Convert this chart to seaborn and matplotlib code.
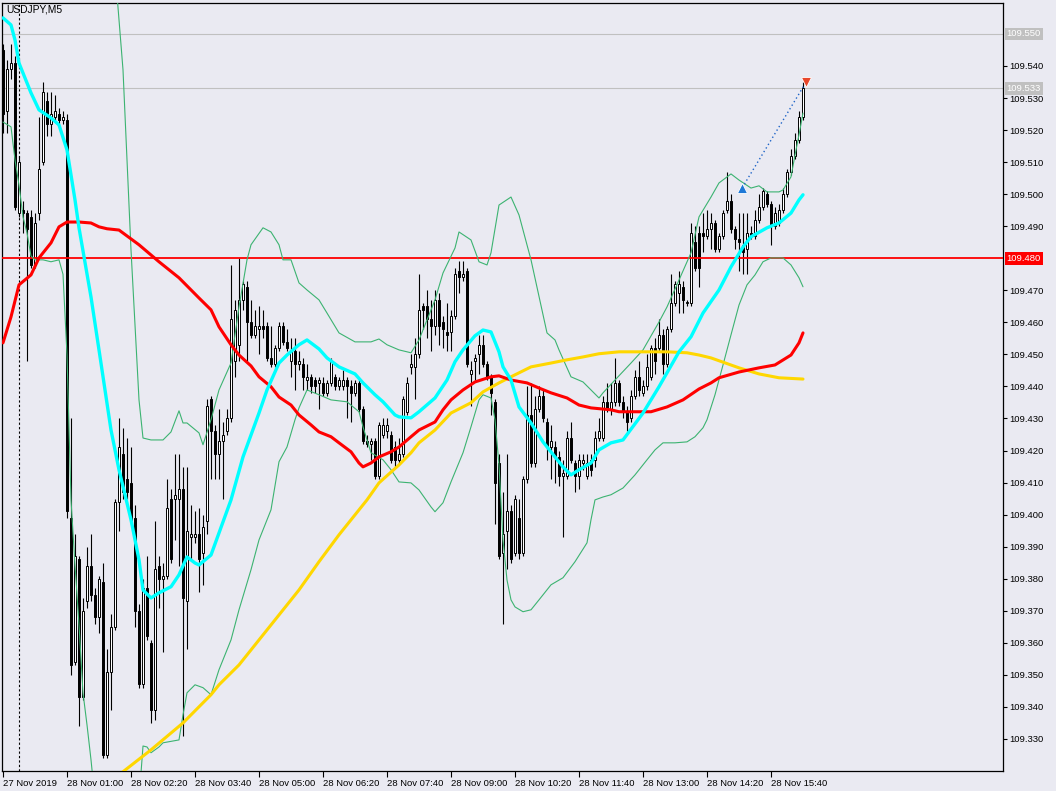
import numpy as np
import pandas as pd
import matplotlib.pyplot as plt
import seaborn as sns

# USDJPY M5, bar 0 = 27 Nov 2019 23:40, bar 200 = 28 Nov 16:20
opens = [109.545, 109.526, 109.539, 109.541, 109.494, 109.495, 109.494, 109.493, 109.478, 109.494,
         109.510, 109.529, 109.522, 109.524, 109.525, 109.523, 109.523, 109.399, 109.354, 109.386,
         109.343, 109.373, 109.384, 109.375, 109.368, 109.379, 109.325, 109.351, 109.365, 109.404,
         109.419, 109.411, 109.410, 109.399, 109.370, 109.347, 109.377, 109.360, 109.339, 109.384,
         109.380, 109.381, 109.405, 109.405, 109.405, 109.408, 109.373, 109.393, 109.393, 109.394,
         109.388, 109.398, 109.436, 109.426, 109.419, 109.423, 109.426, 109.430, 109.448, 109.453,
         109.467, 109.471, 109.460, 109.456, 109.458, 109.459, 109.459, 109.449, 109.447, 109.452,
         109.459, 109.454, 109.448, 109.451, 109.447, 109.447, 109.442, 109.443, 109.442, 109.441,
         109.441, 109.438, 109.441, 109.443, 109.440, 109.440, 109.442, 109.440, 109.438, 109.441,
         109.433, 109.423, 109.422, 109.423, 109.412, 109.425, 109.426, 109.425, 109.421, 109.417,
         109.419, 109.432, 109.446, 109.446, 109.450, 109.465, 109.465, 109.461, 109.459, 109.467,
         109.460, 109.457, 109.457, 109.462, 109.476, 109.474, 109.476, 109.444, 109.448, 109.450,
         109.453, 109.447, 109.443, 109.435, 109.416, 109.388, 109.395, 109.401, 109.388, 109.399,
         109.388, 109.411, 109.431, 109.416, 109.433, 109.437, 109.429, 109.421, 109.421, 109.418,
         109.412, 109.412, 109.424, 109.416, 109.412, 109.416, 109.412, 109.417, 109.417, 109.424,
         109.424, 109.435, 109.433, 109.435, 109.441, 109.435, 109.432, 109.430, 109.437, 109.443,
         109.438, 109.440, 109.443, 109.452, 109.452, 109.456, 109.447, 109.458, 109.466, 109.469,
         109.471, 109.466, 109.466, 109.485, 109.488, 109.488, 109.487, 109.489, 109.491, 109.483,
         109.487, 109.495, 109.498, 109.489, 109.486, 109.484, 109.483, 109.488, 109.487, 109.492,
         109.496, 109.500, 109.497, 109.490, 109.491, 109.495, 109.500, 109.507, 109.512, 109.517,
         109.524]
highs = [109.547, 109.542, 109.547, 109.543, 109.512, 109.498, 109.495, 109.495, 109.494, 109.524,
         109.535, 109.532, 109.532, 109.531, 109.527, 109.526, 109.525, 109.430, 109.394, 109.387,
         109.374, 109.390, 109.394, 109.377, 109.381, 109.385, 109.358, 109.369, 109.405, 109.430,
         109.427, 109.424, 109.421, 109.403, 109.372, 109.380, 109.387, 109.361, 109.398, 109.387,
         109.385, 109.411, 109.408, 109.419, 109.419, 109.415, 109.415, 109.403, 109.401, 109.402,
         109.400, 109.436, 109.437, 109.428, 109.433, 109.429, 109.433, 109.478, 109.467, 109.480,
         109.473, 109.473, 109.467, 109.464, 109.465, 109.464, 109.460, 109.459, 109.453, 109.460,
         109.460, 109.458, 109.455, 109.455, 109.451, 109.449, 109.447, 109.444, 109.443, 109.443,
         109.443, 109.442, 109.449, 109.444, 109.443, 109.445, 109.443, 109.442, 109.442, 109.442,
         109.434, 109.425, 109.424, 109.424, 109.429, 109.430, 109.430, 109.426, 109.423, 109.424,
         109.437, 109.443, 109.450, 109.455, 109.475, 109.466, 109.470, 109.467, 109.470, 109.469,
         109.462, 109.466, 109.464, 109.477, 109.479, 109.479, 109.477, 109.448, 109.450, 109.456,
         109.456, 109.448, 109.444, 109.436, 109.419, 109.407, 109.419, 109.403, 109.406, 109.405,
         109.412, 109.440, 109.441, 109.437, 109.440, 109.439, 109.430, 109.428, 109.423, 109.420,
         109.417, 109.426, 109.429, 109.417, 109.419, 109.419, 109.419, 109.419, 109.426, 109.430,
         109.437, 109.441, 109.441, 109.449, 109.442, 109.437, 109.434, 109.439, 109.445, 109.448,
         109.442, 109.450, 109.453, 109.455, 109.461, 109.458, 109.459, 109.475, 109.473, 109.476,
         109.473, 109.467, 109.491, 109.490, 109.490, 109.494, 109.495, 109.494, 109.492, 109.488,
         109.495, 109.507, 109.500, 109.490, 109.494, 109.494, 109.494, 109.490, 109.495, 109.500,
         109.502, 109.501, 109.498, 109.496, 109.497, 109.502, 109.508, 109.514, 109.519, 109.526,
         109.535]
lows = [109.519, 109.519, 109.536, 109.495, 109.493, 109.488, 109.448, 109.477, 109.477, 109.492,
        109.509, 109.518, 109.518, 109.523, 109.522, 109.522, 109.399, 109.350, 109.353, 109.334,
        109.342, 109.371, 109.373, 109.366, 109.363, 109.324, 109.324, 109.339, 109.364, 109.395,
        109.405, 109.405, 109.397, 109.365, 109.346, 109.346, 109.361, 109.335, 109.336, 109.371,
        109.357, 109.380, 109.385, 109.392, 109.384, 109.331, 109.358, 109.386, 109.391, 109.376,
        109.378, 109.394, 109.411, 109.411, 109.411, 109.405, 109.425, 109.429, 109.443, 109.448,
        109.464, 109.448, 109.455, 109.455, 109.450, 109.455, 109.448, 109.446, 109.446, 109.451,
        109.453, 109.451, 109.443, 109.439, 109.445, 109.439, 109.439, 109.438, 109.438, 109.433,
        109.437, 109.437, 109.440, 109.439, 109.439, 109.439, 109.430, 109.429, 109.437, 109.432,
        109.422, 109.421, 109.417, 109.411, 109.411, 109.424, 109.424, 109.416, 109.415, 109.416,
        109.418, 109.431, 109.444, 109.436, 109.449, 109.458, 109.455, 109.451, 109.456, 109.453,
        109.452, 109.451, 109.451, 109.461, 109.469, 109.473, 109.446, 109.434, 109.442, 109.444,
        109.446, 109.442, 109.431, 109.397, 109.386, 109.366, 109.383, 109.385, 109.387, 109.386,
        109.387, 109.410, 109.415, 109.415, 109.432, 109.429, 109.417, 109.411, 109.410, 109.409,
        109.393, 109.411, 109.416, 109.407, 109.408, 109.414, 109.411, 109.412, 109.415, 109.423,
        109.423, 109.432, 109.431, 109.434, 109.434, 109.430, 109.426, 109.429, 109.436, 109.437,
        109.437, 109.439, 109.442, 109.444, 109.451, 109.444, 109.446, 109.457, 109.465, 109.463,
        109.463, 109.465, 109.465, 109.476, 109.471, 109.482, 109.486, 109.483, 109.482, 109.482,
        109.486, 109.494, 109.488, 109.483, 109.476, 109.475, 109.475, 109.486, 109.486, 109.491,
        109.495, 109.496, 109.484, 109.489, 109.490, 109.494, 109.499, 109.506, 109.511, 109.516,
        109.523]
closes = [109.525, 109.539, 109.541, 109.496, 109.510, 109.494, 109.489, 109.478, 109.491, 109.508,
          109.532, 109.522, 109.525, 109.526, 109.523, 109.524, 109.401, 109.353, 109.387, 109.343,
          109.370, 109.384, 109.375, 109.368, 109.380, 109.325, 109.351, 109.365, 109.404, 109.421,
          109.407, 109.407, 109.398, 109.370, 109.347, 109.377, 109.362, 109.339, 109.383, 109.380,
          109.381, 109.402, 109.386, 109.406, 109.408, 109.374, 109.395, 109.394, 109.394, 109.386,
          109.396, 109.434, 109.426, 109.419, 109.423, 109.425, 109.430, 109.461, 109.464, 109.467,
          109.472, 109.460, 109.456, 109.459, 109.459, 109.458, 109.449, 109.447, 109.452, 109.459,
          109.454, 109.452, 109.451, 109.447, 109.448, 109.443, 109.443, 109.440, 109.440, 109.442,
          109.438, 109.441, 109.448, 109.440, 109.442, 109.442, 109.440, 109.438, 109.441, 109.433,
          109.423, 109.422, 109.423, 109.412, 109.428, 109.428, 109.428, 109.417, 109.417, 109.419,
          109.436, 109.441, 109.447, 109.450, 109.464, 109.464, 109.461, 109.459, 109.467, 109.459,
          109.458, 109.456, 109.462, 109.475, 109.474, 109.475, 109.447, 109.445, 109.449, 109.453,
          109.447, 109.443, 109.438, 109.410, 109.387, 109.394, 109.401, 109.386, 109.405, 109.388,
          109.411, 109.431, 109.416, 109.433, 109.437, 109.430, 109.421, 109.423, 109.418, 109.412,
          109.413, 109.424, 109.417, 109.412, 109.417, 109.417, 109.416, 109.414, 109.424, 109.426,
          109.435, 109.433, 109.435, 109.441, 109.435, 109.432, 109.429, 109.437, 109.443, 109.439,
          109.440, 109.446, 109.452, 109.448, 109.456, 109.447, 109.458, 109.466, 109.472, 109.472,
          109.467, 109.466, 109.488, 109.477, 109.477, 109.487, 109.489, 109.491, 109.483, 109.487,
          109.494, 109.498, 109.489, 109.486, 109.485, 109.482, 109.488, 109.487, 109.492, 109.496,
          109.501, 109.497, 109.490, 109.494, 109.495, 109.500, 109.507, 109.512, 109.517, 109.524,
          109.533]

# fast MA (cyan) at these bars
fast_bars = [0, 2, 3, 4, 7, 9, 12, 14, 16, 18, 19, 22, 24, 27, 29, 32, 34, 35, 37, 39,
             42, 44, 46, 48, 49, 52, 57, 60, 64, 66, 69, 71, 74, 76, 79, 81, 84, 88, 90, 93,
             95, 98, 99, 102, 104, 108, 111, 113, 115, 118, 120, 122, 124, 125, 127, 129, 132, 135, 138, 140,
             142, 144, 147, 149, 152, 155, 160, 164, 169, 172, 175, 179, 182, 185, 187, 191, 194, 197, 199, 200]
fast_ma = [109.5550, 109.5528, 109.5481, 109.5409, 109.5316, 109.5263, 109.5238, 109.5216, 109.5138, 109.4982,
           109.4895, 109.4679, 109.4514, 109.4264, 109.4140, 109.3984, 109.3859, 109.3765, 109.3740, 109.3756,
           109.3775, 109.3812, 109.3868, 109.3849, 109.3843, 109.3874, 109.4046, 109.4180, 109.4317, 109.4389,
           109.4473, 109.4498, 109.4530, 109.4545, 109.4517, 109.4489, 109.4461, 109.4439, 109.4411, 109.4374,
           109.4352, 109.4311, 109.4305, 109.4302, 109.4321, 109.4364, 109.4420, 109.4477, 109.4514, 109.4558,
           109.4576, 109.4570, 109.4508, 109.4461, 109.4420, 109.4336, 109.4286, 109.4227, 109.4180, 109.4149,
           109.4124, 109.4140, 109.4161, 109.4202, 109.4224, 109.4233, 109.4317, 109.4399, 109.4508, 109.4555,
           109.4629, 109.4701, 109.4773, 109.4835, 109.4867, 109.4895, 109.4910, 109.4941, 109.4982, 109.4998]

# slow MA (red)
slow_bars = [0, 2, 4, 7, 9, 12, 14, 16, 19, 22, 24, 26, 29, 34, 39, 44, 49, 52, 54, 57,
             59, 62, 64, 67, 69, 72, 74, 77, 79, 82, 84, 87, 89, 90, 92, 94, 97, 99, 102, 104,
             108, 110, 112, 115, 118, 122, 124, 127, 131, 134, 137, 141, 144, 147, 152, 154, 162, 166, 170, 174,
             177, 179, 184, 189, 193, 197, 199, 200]
slow_ma = [109.4536, 109.4617, 109.4717, 109.4748, 109.4801, 109.4848, 109.4898, 109.4913, 109.4913, 109.4910,
           109.4898, 109.4892, 109.4888, 109.4842, 109.4789, 109.4739, 109.4676, 109.4639, 109.4586, 109.4530,
           109.4498, 109.4464, 109.4430, 109.4399, 109.4367, 109.4342, 109.4311, 109.4280, 109.4258, 109.4243,
           109.4224, 109.4196, 109.4161, 109.4149, 109.4161, 109.4180, 109.4196, 109.4211, 109.4243, 109.4264,
           109.4289, 109.4327, 109.4358, 109.4389, 109.4414, 109.4430, 109.4433, 109.4420, 109.4411, 109.4395,
           109.4380, 109.4364, 109.4342, 109.4333, 109.4327, 109.4321, 109.4321, 109.4336, 109.4358, 109.4392,
           109.4411, 109.4427, 109.4445, 109.4458, 109.4467, 109.4498, 109.4536, 109.4567]

# long MA (gold)
long_bars = [29, 37, 45, 52, 54, 59, 64, 69, 74, 79, 84, 91, 94, 99, 102, 104, 108, 112, 117, 120,
             124, 127, 132, 137, 141, 145, 149, 154, 158, 166, 171, 174, 177, 184, 189, 194, 200]
long_ma = [109.3188, 109.3266, 109.3350, 109.3438, 109.3469, 109.3531, 109.3609, 109.3687, 109.3765, 109.3853,
           109.3937, 109.4046, 109.4099, 109.4155, 109.4193, 109.4224, 109.4264, 109.4317, 109.4349, 109.4383,
           109.4411, 109.4430, 109.4461, 109.4473, 109.4483, 109.4492, 109.4502, 109.4508, 109.4508, 109.4508,
           109.4505, 109.4498, 109.4489, 109.4458, 109.4439, 109.4427, 109.4423]

# Bollinger bands (green)
upper_bars = [28, 30, 32, 34, 35, 37, 40, 42, 44, 45, 46, 49, 50, 52, 54, 57, 59, 61, 62, 65,
              67, 69, 70, 72, 74, 76, 79, 81, 84, 88, 92, 94, 96, 99, 102, 104, 108, 110, 113, 114,
              117, 119, 121, 122, 124, 127, 129, 132, 136, 138, 139, 142, 145, 147, 149, 150, 153, 157, 160, 164,
              166, 169, 172, 174, 177, 179, 182, 184, 187, 189, 191, 194, 195, 197, 198, 199, 200]
upper_band = [109.5700, 109.5388, 109.4826, 109.4358, 109.4239, 109.4233, 109.4233, 109.4258, 109.4324, 109.4286,
              109.4286, 109.4255, 109.4218, 109.4296, 109.4389, 109.4473, 109.4648, 109.4795, 109.4842, 109.4895,
              109.4882, 109.4842, 109.4795, 109.4795, 109.4723, 109.4701, 109.4670, 109.4629, 109.4567, 109.4539,
              109.4539, 109.4548, 109.4530, 109.4514, 109.4505, 109.4545, 109.4670, 109.4754, 109.4832, 109.4882,
              109.4857, 109.4789, 109.4779, 109.4817, 109.4966, 109.4991, 109.4935, 109.4795, 109.4567, 109.4545,
              109.4514, 109.4430, 109.4414, 109.4389, 109.4364, 109.4380, 109.4420, 109.4473, 109.4514, 109.4601,
              109.4648, 109.4732, 109.4817, 109.4929, 109.4991, 109.5035, 109.5063, 109.5044, 109.5019, 109.5026,
              109.5007, 109.5007, 109.5013, 109.5054, 109.5122, 109.5185, 109.5253]
lower_bars_a = [0, 2, 3, 4, 5, 6, 7, 8, 10, 12, 14, 15, 16, 17, 18, 19, 20, 21, 22, 23]
lower_band_a = [109.5225, 109.5210, 109.5107, 109.5029, 109.4929, 109.4879, 109.4807, 109.4795, 109.4795, 109.4789,
                109.4795, 109.4750, 109.4498, 109.4046, 109.3843, 109.3656, 109.3444, 109.3344, 109.3235, 109.3110]
lower_bars_b = [34, 35, 36, 37, 38, 39, 40, 44, 45, 46, 48, 50, 52, 54, 57, 59, 62, 64, 67, 69,
                71, 73, 74, 76, 79, 82, 86, 89, 90, 91, 92, 95, 97, 99, 102, 104, 107, 108, 110, 112,
                115, 117, 119, 120, 122, 123, 124, 125, 126, 127, 128, 130, 132, 134, 137, 140, 143, 146, 147, 148,
                150, 152, 155, 158, 161, 163, 165, 168, 171, 173, 175, 176, 178, 180, 182, 184, 186, 188, 190, 192,
                195, 197, 199, 200]
lower_band_b = [109.3110, 109.3278, 109.3275, 109.3257, 109.3266, 109.3275, 109.3288, 109.3297, 109.3375, 109.3444,
                109.3469, 109.3460, 109.3438, 109.3516, 109.3609, 109.3703, 109.3828, 109.3921, 109.4015, 109.4165,
                109.4211, 109.4296, 109.4333, 109.4389, 109.4374, 109.4358, 109.4352, 109.4321, 109.4274, 109.4233,
                109.4193, 109.4171, 109.4140, 109.4102, 109.4099, 109.4077, 109.4024, 109.4009, 109.4037, 109.4102,
                109.4193, 109.4274, 109.4358, 109.4374, 109.4364, 109.4296, 109.4155, 109.3921, 109.3796, 109.3734,
                109.3712, 109.3697, 109.3703, 109.3734, 109.3781, 109.3803, 109.3853, 109.3912, 109.3984, 109.4046,
                109.4055, 109.4062, 109.4083, 109.4124, 109.4171, 109.4202, 109.4224, 109.4224, 109.4227, 109.4243,
                109.4271, 109.4296, 109.4374, 109.4467, 109.4561, 109.4654, 109.4717, 109.4748, 109.4789, 109.4801,
                109.4801, 109.4779, 109.4739, 109.4711]

level_price = 109.480
ask_price = 109.550
bid_price = 109.533
trade_bars = [184.8, 200.8]
trade_prices = [109.502, 109.535]
separator_bar = 4

tick_bars = list(range(0, 193, 16))
tick_labels = ['27 Nov 2019', '28 Nov 01:00', '28 Nov 02:20', '28 Nov 03:40', '28 Nov 05:00',
               '28 Nov 06:20', '28 Nov 07:40', '28 Nov 09:00', '28 Nov 10:20', '28 Nov 11:40',
               '28 Nov 13:00', '28 Nov 14:20', '28 Nov 15:40']

# style
bg = '#EAEAF2'
sns.set_style('dark', {'axes.facecolor': bg, 'figure.facecolor': bg,
                       'axes.edgecolor': 'black', 'xtick.bottom': True, 'ytick.right': True,
                       'xtick.color': 'black', 'ytick.color': 'black'})
plt.rcParams['font.family'] = ['Liberation Sans', 'DejaVu Sans']

fig = plt.figure(figsize=(10.56, 7.91), dpi=100)
ax = fig.add_axes([2 / 1056, 20 / 791, 1001 / 1056, 768.5 / 791])

bars = np.arange(len(opens))
df = pd.DataFrame({'bar': bars, 'open': opens, 'high': highs, 'low': lows, 'close': closes})
up = df['close'] >= df['open']

# candles
ax.vlines(df['bar'], df['low'], df['high'], color='black', linewidth=0.8, zorder=2)
body_h = (df['close'] - df['open']).abs().clip(lower=0.0003)
body_b = df[['open', 'close']].min(axis=1)
ax.bar(df['bar'][up], body_h[up], bottom=body_b[up], width=0.5, color='white',
       edgecolor='black', linewidth=0.7, zorder=3)
ax.bar(df['bar'][~up], body_h[~up], bottom=body_b[~up], width=0.5, color='black',
       edgecolor='black', linewidth=0.7, zorder=3)

# horizontal lines
ax.axhline(ask_price, color='#C0C0C0', linewidth=0.8, zorder=1)
ax.axhline(bid_price, color='#C0C0C0', linewidth=0.8, zorder=1)
ax.axhline(level_price, color='#FF0000', linewidth=1.3, zorder=4)
ax.axvline(separator_bar, color='black', linewidth=0.8, linestyle=(0, (2, 2)), zorder=1)

# indicators
green = '#3CB371'
sns.lineplot(x=upper_bars, y=upper_band, ax=ax, color=green, linewidth=0.8, zorder=5)
sns.lineplot(x=lower_bars_a, y=lower_band_a, ax=ax, color=green, linewidth=0.8, zorder=5)
sns.lineplot(x=lower_bars_b, y=lower_band_b, ax=ax, color=green, linewidth=0.8, zorder=5)
sns.lineplot(x=long_bars, y=long_ma, ax=ax, color='#FFD700', linewidth=2.2, zorder=6)
sns.lineplot(x=slow_bars, y=slow_ma, ax=ax, color='#FF0000', linewidth=2.2, zorder=7)
sns.lineplot(x=fast_bars, y=fast_ma, ax=ax, color='#00FFFF', linewidth=2.4, zorder=8)

# trade line
ax.plot(trade_bars, trade_prices, color='#1E64C8', linewidth=1.0, linestyle=(0, (1, 2)), zorder=9)
ax.plot(trade_bars[0], trade_prices[0], marker='^', markersize=6.5, color='#1E78D7',
        markeredgecolor='white', markeredgewidth=0.6, zorder=10)
ax.plot(trade_bars[1], trade_prices[1], marker='v', markersize=6.5, color='#E8462A',
        markeredgecolor='white', markeredgewidth=0.6, zorder=10)

# axes
ax.set_xlim(-0.25, 250)
ax.set_ylim(109.3200, 109.5598)
ax.set_xlabel('')
ax.set_ylabel('')
ax.yaxis.tick_right()
yt = [round(109.33 + 0.01 * i, 3) for i in range(22)]
yt = [v for v in yt if abs(v - level_price) > 1e-6]
ax.set_yticks(yt)
ax.set_yticklabels([f'{v:.3f}' for v in yt])
ax.set_xticks(tick_bars)
ax.set_xticklabels(tick_labels, ha='left')
ax.tick_params(axis='y', direction='out', length=3, width=0.8, pad=1.5, labelsize=6.8)
ax.tick_params(axis='x', direction='out', length=4, width=0.8, pad=2, labelsize=6.8)
for s in ax.spines.values():
    s.set_color('black')
    s.set_linewidth(0.9)

# price labels on the right scale
for price, col in [(ask_price, '#C0C0C0'), (bid_price, '#C0C0C0'), (level_price, '#FF0000')]:
    ax.text(1.0035, price, f'{price:.3f}', transform=ax.get_yaxis_transform(),
            ha='left', va='center', fontsize=6.8, color='white', clip_on=False, zorder=20,
            bbox=dict(boxstyle='square,pad=0.2', facecolor=col, edgecolor='none'))

fig.text(6 / 1056, 1 - 9 / 791, 'USDJPY,M5', ha='left', va='center', fontsize=7.4, color='black')

plt.savefig('out.png', dpi=100, facecolor=fig.get_facecolor())
